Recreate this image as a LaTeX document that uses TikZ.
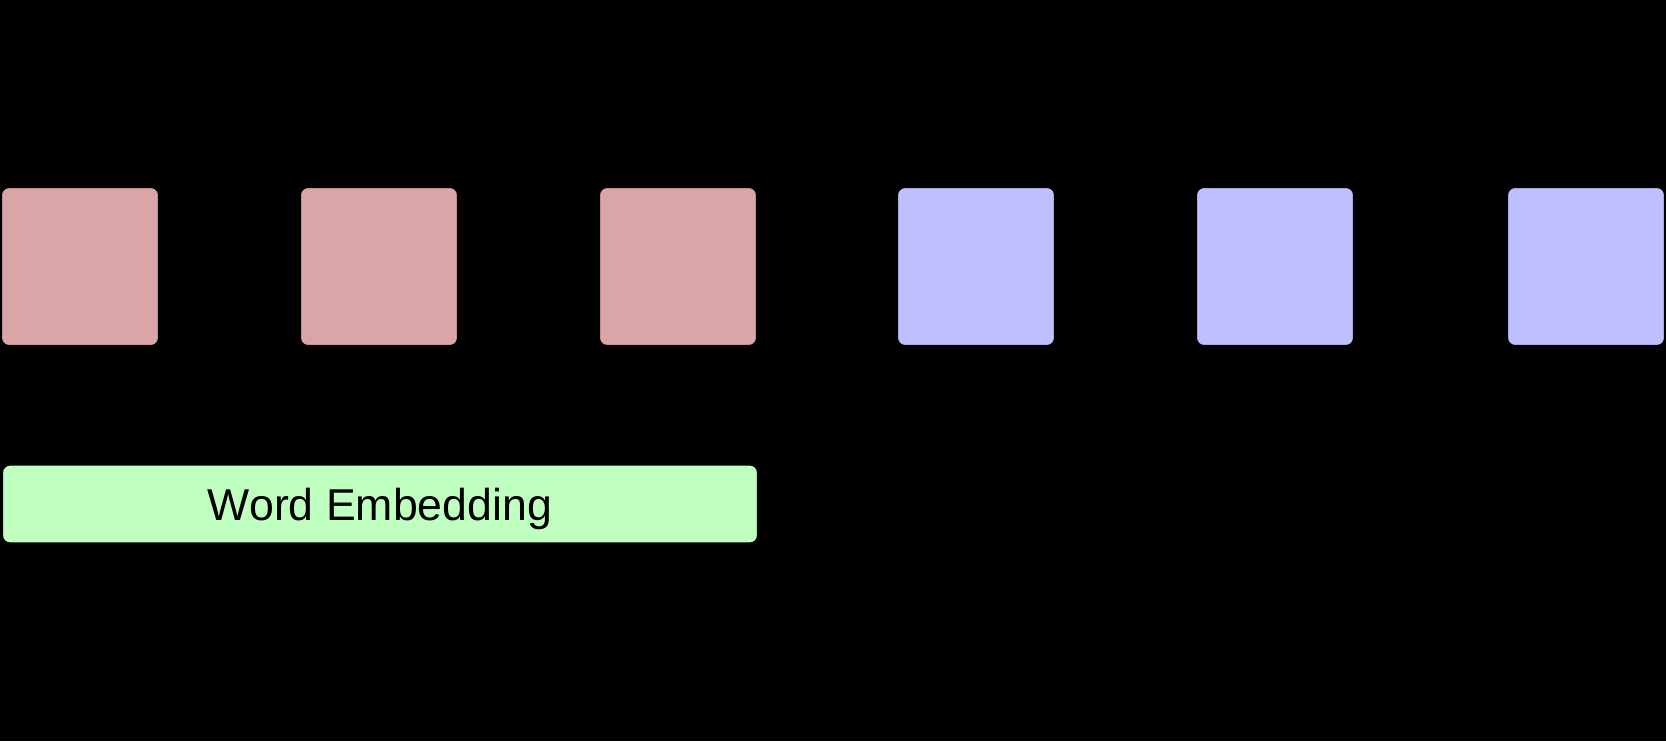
\documentclass[tikz,border=0pt]{standalone}
\usepackage{fontspec}
\setmainfont{Liberation Sans}
\usetikzlibrary{positioning}

\definecolor{redcell}{RGB}{218,165,166}
\definecolor{bluecell}{RGB}{191,191,255}
\definecolor{embfill}{RGB}{191,255,191}

\tikzset{
    cell/.style={draw=black, line width=0.6pt, rounded corners=0.08cm,
        minimum width=1.58cm, minimum height=1.59cm, inner sep=0pt},
    embed/.style={draw=black, line width=0.6pt, fill=embfill, rounded corners=0.08cm,
        minimum width=7.56cm, minimum height=0.79cm, inner sep=0pt, text depth=0pt,
        font=\fontsize{12.7}{15}\selectfont}
}

\begin{document}
\begin{tikzpicture}

    % fundo
    \fill[black] (0,0) rectangle (16.66,7.41);
    \useasboundingbox (0,0) rectangle (16.66,7.41);

% celulas vermelhas
\node[cell, fill=redcell] (red1) at (0.80,4.745) {};
\node[cell, fill=redcell] (red2) at (3.79,4.745) {};
\node[cell, fill=redcell] (red3) at (6.78,4.745) {};

% celulas azuis
\node[cell, fill=bluecell] (blue1) at (9.76,4.745) {};
\node[cell, fill=bluecell] (blue2) at (12.75,4.745) {};
\node[cell, fill=bluecell] (blue3) at (15.86,4.745) {};

% embedding
\node[embed] (emb) at (3.80,2.37) {Word Embedding};

\end{tikzpicture}
\end{document}
